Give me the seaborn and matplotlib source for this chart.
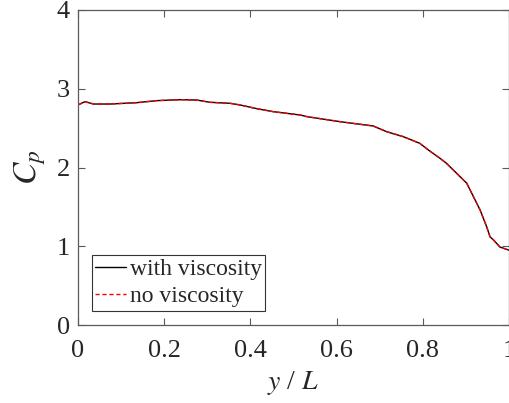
import matplotlib
matplotlib.use("Agg")
import matplotlib.pyplot as plt
import seaborn as sns
import pandas as pd

y_over_L = [0.0, 0.016, 0.036, 0.074, 0.136, 0.183, 0.237, 0.275, 0.306, 0.353,
            0.376, 0.415, 0.453, 0.515, 0.531, 0.608, 0.685, 0.716, 0.755, 0.793,
            0.813, 0.84, 0.855, 0.902, 0.933, 0.948, 0.956, 0.964, 0.979, 1.0]
cp_visc = [2.794, 2.836, 2.806, 2.806, 2.823, 2.849, 2.861, 2.857, 2.828, 2.815,
           2.794, 2.747, 2.709, 2.667, 2.646, 2.582, 2.527, 2.455, 2.391, 2.307,
           2.222, 2.116, 2.053, 1.80, 1.46, 1.25, 1.12, 1.08, 0.99, 0.95]
cp_novisc = [2.794, 2.836, 2.806, 2.806, 2.823, 2.849, 2.861, 2.857, 2.828, 2.815,
             2.794, 2.747, 2.709, 2.667, 2.646, 2.582, 2.527, 2.455, 2.391, 2.307,
             2.222, 2.116, 2.053, 1.80, 1.46, 1.25, 1.12, 1.08, 0.99, 0.95]
series_names = ["with viscosity", "no viscosity"]
x_ticks = [0, 0.2, 0.4, 0.6, 0.8, 1]
x_ticklabels = ["0", "0.2", "0.4", "0.6", "0.8", "1"]
y_ticks = [0, 1, 2, 3, 4]

sns.set_style("ticks")
plt.rcParams["font.family"] = ["Liberation Serif", "DejaVu Serif"]
plt.rcParams["mathtext.fontset"] = "stix"

df1 = pd.DataFrame({"x": y_over_L, "cp": cp_visc})
df2 = pd.DataFrame({"x": y_over_L, "cp": cp_novisc})

fig = plt.figure(figsize=(5.1, 4.03), dpi=100)
ax = fig.add_axes([78 / 510, (403 - 325) / 403, (509 - 78) / 510, (325 - 10) / 403])

sns.lineplot(data=df1, x="x", y="cp", ax=ax, color="black", linewidth=1.0,
             label=series_names[0], sort=False)
sns.lineplot(data=df2, x="x", y="cp", ax=ax, color="red", linewidth=1.0,
             linestyle=(0, (3, 2)), label=series_names[1], sort=False)

ax.set_xlim(0, 1)
ax.set_ylim(0, 4)
ax.set_xticks(x_ticks)
ax.set_xticklabels(x_ticklabels)
ax.set_yticks(y_ticks)

gray = "#262626"
for s in ax.spines.values():
    s.set_visible(True)
    s.set_color("#5a5a5a")
    s.set_linewidth(0.9)
ax.tick_params(direction="in", length=5, width=0.8, colors="#5a5a5a",
               labelcolor=gray, labelsize=19, top=True, right=True)
ax.tick_params(axis="x", pad=11)
ax.tick_params(axis="y", pad=6)

ax.set_xlabel("$y$ / $L$", fontsize=20, color=gray, labelpad=5)
ax.set_ylabel("$C_p$", fontsize=24, color=gray, labelpad=6)

leg = ax.legend(loc="lower left", bbox_to_anchor=(0.032, 0.045), fontsize=17,
                frameon=True, fancybox=False, edgecolor="black",
                handlelength=1.3, handletextpad=0.15, borderpad=0.15,
                labelspacing=0.25, borderaxespad=0)
leg.get_frame().set_linewidth(0.8)

fig.savefig("out.png", dpi=100)
